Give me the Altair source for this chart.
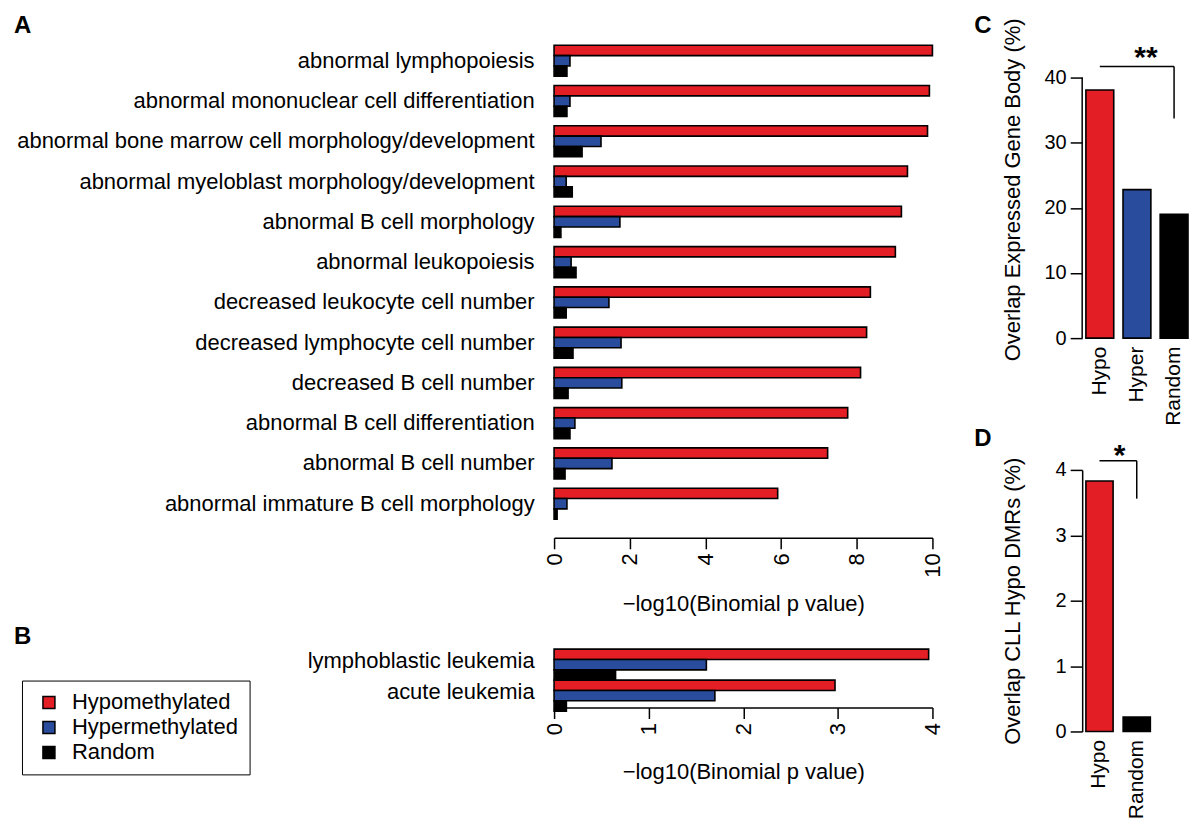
import altair as alt
import pandas as pd

# ---------------- data ----------------
terms_a = [
    "abnormal lymphopoiesis",
    "abnormal mononuclear cell differentiation",
    "abnormal bone marrow cell morphology/development",
    "abnormal myeloblast morphology/development",
    "abnormal B cell morphology",
    "abnormal leukopoiesis",
    "decreased leukocyte cell number",
    "decreased lymphocyte cell number",
    "decreased B cell number",
    "abnormal B cell differentiation",
    "abnormal B cell number",
    "abnormal immature B cell morphology",
]
hypo_a = [10.0, 9.92, 9.87, 9.34, 9.18, 9.02, 8.36, 8.26, 8.10, 7.76, 7.23, 5.91]
hyper_a = [0.42, 0.42, 1.24, 0.32, 1.74, 0.45, 1.45, 1.77, 1.79, 0.55, 1.53, 0.34]
random_a = [0.34, 0.34, 0.74, 0.48, 0.18, 0.58, 0.32, 0.50, 0.37, 0.42, 0.29, 0.08]

terms_b = ["lymphoblastic leukemia", "acute leukemia"]
hypo_b = [3.96, 2.97]
hyper_b = [1.61, 1.70]
random_b = [0.65, 0.13]

groups_c = ["Hypo", "Hyper", "Random"]
values_c = [38.1, 22.8, 19.0]

groups_d = ["Hypo", "Random"]
values_d = [3.83, 0.22]

series_names = ["Hypomethylated", "Hypermethylated", "Random"]
series_colors = ["#E31E24", "#2A4C9C", "#000000"]

x_ticks_a = [0, 2, 4, 6, 8, 10]
x_ticks_b = [0, 1, 2, 3, 4]
y_ticks_c = [0, 10, 20, 30, 40]
y_ticks_d = [0, 1, 2, 3, 4]

FONT = "Liberation Sans"
XTITLE = "\u2212log10(Binomial p value)"

# panel C plot is taller than its 0-40 axis so that its top lines up with panel A
C_HEIGHT = 298
C_AXIS_PX = 261
C_TOP = 40 * C_HEIGHT / C_AXIS_PX


def long_df(terms, hypo, hyper, rnd):
    rows = []
    for i, t in enumerate(terms):
        for s, v in zip(series_names, (hypo[i], hyper[i], rnd[i])):
            rows.append({"term": t, "series": s, "value": v})
    return pd.DataFrame(rows)


def letter(ch, x, y):
    return alt.Chart(pd.DataFrame({"t": [ch]})).mark_text(
        fontSize=24, fontWeight="bold", align="left", baseline="alphabetic",
        font=FONT, color="black"
    ).encode(text="t:N", x=alt.value(x), y=alt.value(y))


color_scale = alt.Scale(domain=series_names, range=series_colors)

# ---------------- panel A ----------------
df_a = long_df(terms_a, hypo_a, hyper_a, random_a)
bars_a = alt.Chart(df_a).mark_bar(stroke="black", strokeWidth=1.6).encode(
    x=alt.X("value:Q", scale=alt.Scale(domain=[0, 10], nice=False),
            axis=alt.Axis(values=x_ticks_a, title=XTITLE, labelAngle=270, offset=14,
                          tickSize=11, labelPadding=4, titlePadding=16, labelFontSize=22)),
    y=alt.Y("term:N", scale=alt.Scale(domain=terms_a, paddingInner=0.23, paddingOuter=0.115),
            axis=alt.Axis(title=None, ticks=False, domain=False, labelPadding=20,
                          labelLimit=700, minExtent=547, maxExtent=547, labelFontSize=22)),
    yOffset=alt.YOffset("series:N", scale=alt.Scale(domain=series_names, paddingInner=0, paddingOuter=0)),
    color=alt.Color("series:N", scale=color_scale, legend=None),
)
panel_a = alt.layer(bars_a, letter("A", -541, -7.4)).properties(width=379, height=484)

# ---------------- panel B ----------------
df_b = long_df(terms_b, hypo_b, hyper_b, random_b)
bars_b = alt.Chart(df_b).mark_bar(stroke="black", strokeWidth=1.6).encode(
    x=alt.X("value:Q", scale=alt.Scale(domain=[0, 4], nice=False),
            axis=alt.Axis(values=x_ticks_b, title=XTITLE, labelAngle=270, offset=0,
                          tickSize=11, labelPadding=4, titlePadding=27, labelFontSize=22)),
    y=alt.Y("term:N", scale=alt.Scale(domain=terms_b, paddingInner=0.23, paddingOuter=0.115),
            axis=alt.Axis(title=None, ticks=False, domain=False, labelPadding=20,
                          labelLimit=700, minExtent=547, maxExtent=547, labelFontSize=22)),
    yOffset=alt.YOffset("series:N", scale=alt.Scale(domain=series_names, paddingInner=0, paddingOuter=0)),
    color=alt.Color("series:N", scale=color_scale,
                    legend=alt.Legend(title=None, orient="none", legendX=-533, legendY=35,
                                      direction="vertical", symbolType="square", symbolSize=144,
                                      symbolStrokeColor="black", symbolStrokeWidth=1.5,
                                      symbolOffset=5, labelFontSize=22, labelOffset=12,
                                      labelLimit=400, labelFont=FONT, labelColor="black",
                                      padding=11, strokeColor="black", rowPadding=3)),
)
panel_b = alt.layer(bars_b, letter("B", -541, -2)).properties(width=379, height=62)

# ---------------- panel C ----------------
df_c = pd.DataFrame({"group": groups_c, "value": values_c, "series": series_names})
x_c = alt.Scale(domain=groups_c, paddingInner=0.25, paddingOuter=0.05, align=1)
y_c = alt.Scale(domain=[0, C_TOP], nice=False)
bars_c = alt.Chart(df_c).mark_bar(stroke="black", strokeWidth=1.6).encode(
    x=alt.X("group:N", scale=x_c,
            axis=alt.Axis(title=None, labelAngle=270, ticks=False, domain=False,
                          labelPadding=8, labelFontSize=21)),
    y=alt.Y("value:Q", scale=y_c,
            axis=alt.Axis(values=y_ticks_c, format="d", title="Overlap Expressed Gene Body (%)",
                          domain=False, tickSize=12, labelPadding=4, minExtent=45, maxExtent=45,
                          titlePadding=13)),
    color=alt.Color("series:N", scale=color_scale, legend=None),
)
axis_c = alt.Chart(pd.DataFrame({"lo": [0], "hi": [40]})).mark_rule(
    color="black", strokeWidth=1.5).encode(
    x=alt.value(0), y=alt.Y("lo:Q", scale=y_c), y2="hi:Q")
sig_c = pd.DataFrame({"a": ["Hypo"], "b": ["Random"], "m": ["Hyper"], "txt": ["**"]})
hline_c = alt.Chart(sig_c).mark_rule(color="black", strokeWidth=1.5).encode(
    x=alt.X("a:N", scale=x_c, bandPosition=0.5), x2=alt.X2("b", bandPosition=0.5),
    y=alt.datum(41.7, scale=y_c),
)
vline_c = alt.Chart(sig_c).mark_rule(color="black", strokeWidth=1.5).encode(
    x=alt.X("b:N", scale=x_c, bandPosition=0.5),
    y=alt.datum(33.7, scale=y_c), y2=alt.datum(41.7),
)
star_c = alt.Chart(sig_c).mark_text(fontSize=30, fontWeight="bold", font=FONT,
                                    baseline="alphabetic", dx=9, color="black").encode(
    x=alt.X("m:N", scale=x_c, bandPosition=0.5), y=alt.datum(41.6, scale=y_c), text="txt:N",
)
panel_c = alt.layer(bars_c, axis_c, hline_c, vline_c, star_c, letter("C", -108, -7.4)).properties(
    width=106, height=C_HEIGHT)

# ---------------- panel D ----------------
df_d = pd.DataFrame({"group": groups_d, "value": values_d, "series": ["Hypomethylated", "Random"]})
x_d = alt.Scale(domain=groups_d, paddingInner=0.27, paddingOuter=0.1)
y_d = alt.Scale(domain=[0, 4], nice=False)
bars_d = alt.Chart(df_d).mark_bar(stroke="black", strokeWidth=1.6).encode(
    x=alt.X("group:N", scale=x_d,
            axis=alt.Axis(title=None, labelAngle=270, ticks=False, domain=False,
                          labelPadding=8, labelFontSize=21)),
    y=alt.Y("value:Q", scale=y_d,
            axis=alt.Axis(values=y_ticks_d, format="d", title="Overlap CLL Hypo DMRs (%)",
                          tickSize=12, labelPadding=4, minExtent=45, maxExtent=45,
                          titlePadding=13)),
    color=alt.Color("series:N", scale=color_scale, legend=None),
)
sig_d = pd.DataFrame({"a": ["Hypo"], "b": ["Random"], "txt": ["*"]})
hline_d = alt.Chart(sig_d).mark_rule(color="black", strokeWidth=1.5).encode(
    x=alt.X("a:N", scale=x_d, bandPosition=0.5), x2=alt.X2("b", bandPosition=0.5),
    y=alt.datum(4.14, scale=y_d),
)
vline_d = alt.Chart(sig_d).mark_rule(color="black", strokeWidth=1.5).encode(
    x=alt.X("b:N", scale=x_d, bandPosition=0.5),
    y=alt.datum(3.56, scale=y_d), y2=alt.datum(4.14),
)
star_d = alt.Chart(sig_d).mark_text(fontSize=30, fontWeight="bold", font=FONT,
                                    baseline="alphabetic", dx=20, color="black").encode(
    x=alt.X("a:N", scale=x_d, bandPosition=0.5), y=alt.datum(4.08, scale=y_d), text="txt:N",
)
panel_d = alt.layer(bars_d, hline_d, vline_d, star_d, letter("D", -108, -24)).properties(
    width=72, height=262)

# ---------------- layout ----------------
left = alt.vconcat(panel_a, panel_b, spacing=10).resolve_scale(color="independent")
right = alt.vconcat(panel_c, panel_d, spacing=1).resolve_scale(color="independent")

chart = alt.hconcat(left, right, spacing=31).resolve_scale(color="independent").properties(
    padding={"left": 0, "top": 5, "right": 0, "bottom": 0}
).configure(font=FONT).configure_view(stroke=None).configure_axis(
    labelFont=FONT, titleFont=FONT, labelColor="black", titleColor="black",
    domainColor="black", tickColor="black", domainWidth=1.5, tickWidth=1.5,
    labelFontSize=20, titleFontSize=22, titleFontWeight="normal", grid=False,
)

chart.save("out.html", embed_options={"renderer": "svg", "actions": False})
